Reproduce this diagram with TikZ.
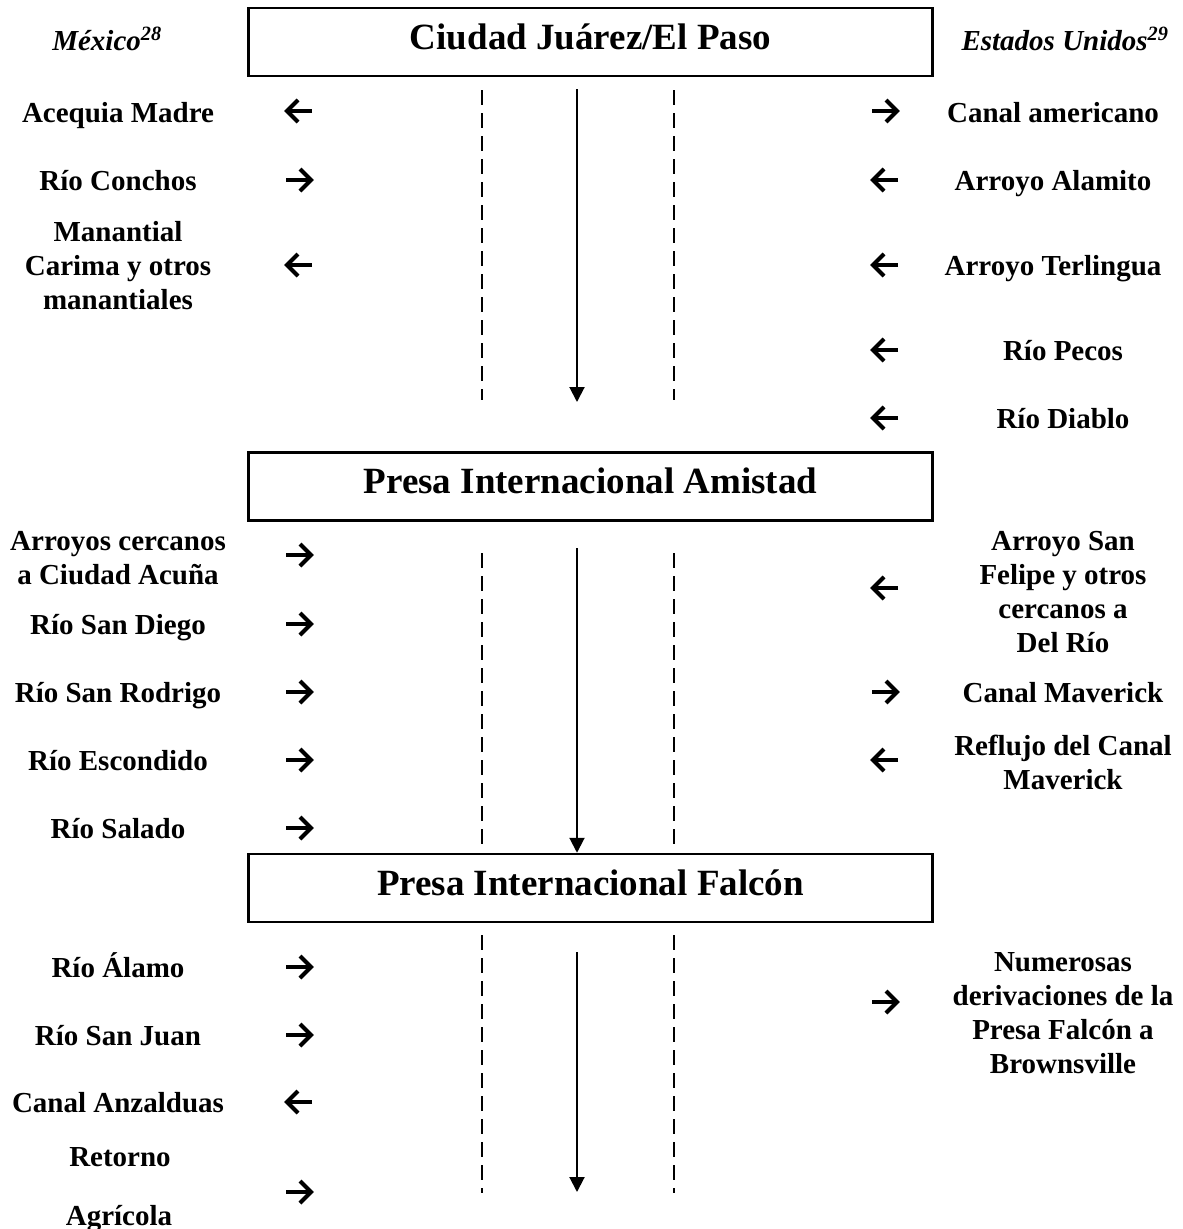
\documentclass[tikz,border=0pt]{standalone}
\usepackage{fontspec}
\setmainfont{Liberation Serif}
\usetikzlibrary{arrows.meta}
\tikzset{
  glyph/.style={line width=4.2pt},
  rarr/.pic={\draw[glyph] (-13,0) -- (10,0); \draw[glyph,line join=miter] (1,-11) -- (12,0) -- (1,11);},
  larr/.pic={\draw[glyph] (13,0) -- (-10,0); \draw[glyph,line join=miter] (-1,-11) -- (-12,0) -- (-1,11);},
  lbl/.style={font=\bfseries\fontsize{29}{34}\selectfont, align=center, inner sep=0pt},
  hdr/.style={font=\bfseries\itshape\fontsize{29}{34}\selectfont, inner sep=0pt},
  damm/.style={draw, line width=2.5pt, minimum width=684pt, minimum height=68pt, inner sep=0pt},
  title/.style={font=\bfseries\fontsize{37}{40}\selectfont, inner sep=0pt},
  flow/.style={line width=2pt, -{Triangle[length=15pt,width=15pt]}},
  divline/.style={line width=1.6pt, dash pattern=on 15pt off 8pt},
}
\begin{document}
\begin{tikzpicture}[x=1pt,y=-1pt]
\useasboundingbox (0,0) rectangle (1183,1229);
% headers
\node[hdr,anchor=base] (mx) at (107,50) {México\textsuperscript{28}};
\node[hdr,anchor=base] (us) at (1065,50) {Estados Unidos\textsuperscript{29}};
% boxes
\node[damm] (b1) at (590.5,42) {};
\node[title,anchor=base] (t1) at (590.5,49) {Ciudad Juárez/El Paso};
\node[damm] (b2) at (590.5,486.5) {};
\node[title,anchor=base] (t2) at (590.5,493) {Presa Internacional Amistad};
\node[damm] (b3) at (590.5,888) {};
\node[title,anchor=base] (t3) at (590.5,895) {Presa Internacional Falcón};
% section 1 flow
\coordinate (s1) at (577,89); \coordinate (e1) at (577,402);
\draw[flow] (s1) -- (e1);
\coordinate (dl1a) at (482,90); \coordinate (dl1b) at (482,400);
\coordinate (dr1a) at (674,90); \coordinate (dr1b) at (674,400);
\draw[divline] (dl1a) -- (dl1b);
\draw[divline] (dr1a) -- (dr1b);
% section 2 flow
\coordinate (s2) at (577,548);
\draw[flow] (s2) -- (s2 |- b3.north);
\coordinate (dl2a) at (482,553); \coordinate (dl2b) at (482,845);
\coordinate (dr2a) at (674,553); \coordinate (dr2b) at (674,845);
\draw[divline] (dl2a) -- (dl2b);
\draw[divline] (dr2a) -- (dr2b);
% section 3 flow
\coordinate (s3) at (577,952); \coordinate (e3) at (577,1192);
\draw[flow] (s3) -- (e3);
\coordinate (dl3a) at (482,935); \coordinate (dl3b) at (482,1193);
\coordinate (dr3a) at (674,935); \coordinate (dr3b) at (674,1193);
\draw[divline] (dl3a) -- (dl3b);
\draw[divline] (dr3a) -- (dr3b);
% ---- section 1 left
\node[lbl,anchor=base] (l1) at (118,122) {Acequia Madre};
\pic (al1) at (299,111) {larr};
\node[lbl,anchor=base] (l2) at (118,190) {Río Conchos};
\pic (al2) at (299,180) {rarr};
\node[lbl] (l3) at (118,266) {Manantial\\Carima y otros\\manantiales};
\pic (al3) at (299,265) {larr};
% ---- section 1 right
\node[lbl,anchor=base] (r1) at (1053,122) {Canal americano};
\pic (ar1) at (885,111) {rarr};
\node[lbl,anchor=base] (r2) at (1053,190) {Arroyo Alamito};
\pic (ar2) at (885,180) {larr};
\node[lbl,anchor=base] (r3) at (1053,275) {Arroyo Terlingua};
\pic (ar3) at (885,265) {larr};
\node[lbl,anchor=base] (r4) at (1063,360) {Río Pecos};
\pic (ar4) at (885,350) {larr};
\node[lbl,anchor=base] (r5) at (1063,428) {Río Diablo};
\pic (ar5) at (885,418) {larr};
% ---- section 2 left
\node[lbl] (l4) at (118,558) {Arroyos cercanos\\a Ciudad Acuña};
\pic (al4) at (299,555) {rarr};
\node[lbl,anchor=base] (l5) at (118,634) {Río San Diego};
\pic (al5) at (299,624) {rarr};
\node[lbl,anchor=base] (l6) at (118,702) {Río San Rodrigo};
\pic (al6) at (299,692) {rarr};
\node[lbl,anchor=base] (l7) at (118,770) {Río Escondido};
\pic (al7) at (299,760) {rarr};
\node[lbl,anchor=base] (l8) at (118,838) {Río Salado};
\pic (al8) at (299,828) {rarr};
% ---- section 2 right
\node[lbl] (r6) at (1063,592) {Arroyo San\\Felipe y otros\\cercanos a\\Del Río};
\pic (ar6) at (885,588) {larr};
\node[lbl,anchor=base] (r7) at (1063,702) {Canal Maverick};
\pic (ar7) at (885,692) {rarr};
\node[lbl] (r8) at (1063,762) {Reflujo del Canal\\Maverick};
\pic (ar8) at (885,760) {larr};
% ---- section 3 left
\node[lbl,anchor=base] (l9) at (118,977) {Río Álamo};
\pic (al9) at (299,967) {rarr};
\node[lbl,anchor=base] (l10) at (118,1045) {Río San Juan};
\pic (al10) at (299,1035) {rarr};
\node[lbl,anchor=base] (l11) at (118,1112) {Canal Anzalduas};
\pic (al11) at (299,1102) {larr};
\node[lbl,anchor=base] (l12) at (120,1166) {Retorno};
\node[lbl,anchor=base] (l13) at (119,1225) {Agrícola};
\pic (al12) at (299,1192) {rarr};
% ---- section 3 right
\node[lbl] (r9) at (1063,1013) {Numerosas\\derivaciones de la\\Presa Falcón a\\Brownsville};
\pic (ar9) at (885,1002) {rarr};
\end{tikzpicture}
\end{document}
